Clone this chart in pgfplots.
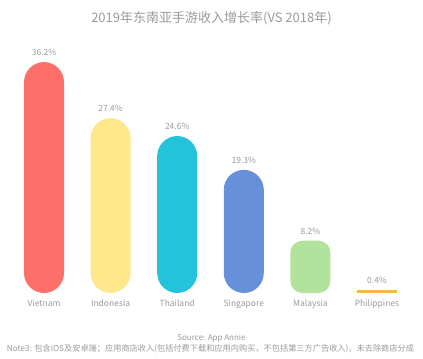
\documentclass[border=0pt]{standalone}
\usepackage{pgfplots}
\pgfplotsset{compat=1.18}
\usepackage{fontspec}
\setmainfont{Noto Sans CJK SC}
\definecolor{txt}{HTML}{9A9A9A}
\definecolor{c1}{HTML}{FF6F69}
\definecolor{c2}{HTML}{FFE78C}
\definecolor{c3}{HTML}{22C3DB}
\definecolor{c4}{HTML}{6690D9}
\definecolor{c5}{HTML}{B2E39C}
\definecolor{c6}{HTML}{F9B552}
\begin{document}
\begin{tikzpicture}
\path[use as bounding box] (0,0) rectangle (423bp,359bp);
\node[text=txt,font=\fontsize{13bp}{15bp}\selectfont] at (211.5bp,341bp) {2019年东南亚手游收入增长率(VS 2018年)};
\node[text=txt,font=\fontsize{8bp}{10bp}\selectfont] at (211.5bp,21bp) {Source: App Annie};
\node[text=txt,font=\fontsize{8.2bp}{10bp}\selectfont] at (210.5bp,10bp) {Note3: 包含iOS及安卓端；应用商店收入(包括付费下载和应用内购买，不包括第三方广告收入)，未去除商店分成};
\begin{axis}[
  at={(10.7bp,66bp)}, anchor=south west,
  scale only axis, width=399.6bp, height=255.2bp,
  xmin=-0.5, xmax=5.5, ymin=0, ymax=40,
  clip=false,
  ybar, bar width=40bp,
  axis line style={draw=none}, tick style={draw=none},
  ytick=\empty,
  /pgf/number format/assume math mode=true,
  xtick={0,1,2,3,4,5},
  xticklabels={Vietnam,Indonesia,Thailand,Singapore,Malaysia,Philippines},
  xticklabel style={text=txt,font=\fontsize{8.5bp}{10bp}\selectfont,yshift=1bp},
  nodes near coords={\pgfmathprintnumber[fixed,precision=1,fixed zerofill,assume math mode=true]{\pgfplotspointmeta}\%},
  nodes near coords style={text=txt,font=\fontsize{8.5bp}{10bp}\selectfont,yshift=3bp},
]
\addplot[fill=c1,draw=none,bar shift=0pt,rounded corners=20bp] coordinates {(0,36.2)};
\addplot[fill=c2,draw=none,bar shift=0pt,rounded corners=20bp] coordinates {(1,27.4)};
\addplot[fill=c3,draw=none,bar shift=0pt,rounded corners=20bp] coordinates {(2,24.6)};
\addplot[fill=c4,draw=none,bar shift=0pt,rounded corners=20bp] coordinates {(3,19.3)};
\addplot[fill=c5,draw=none,bar shift=0pt,rounded corners=12bp] coordinates {(4,8.2)};
\addplot[fill=c6,draw=none,bar shift=0pt] coordinates {(5,0.4)};
\end{axis}
\end{tikzpicture}
\end{document}
